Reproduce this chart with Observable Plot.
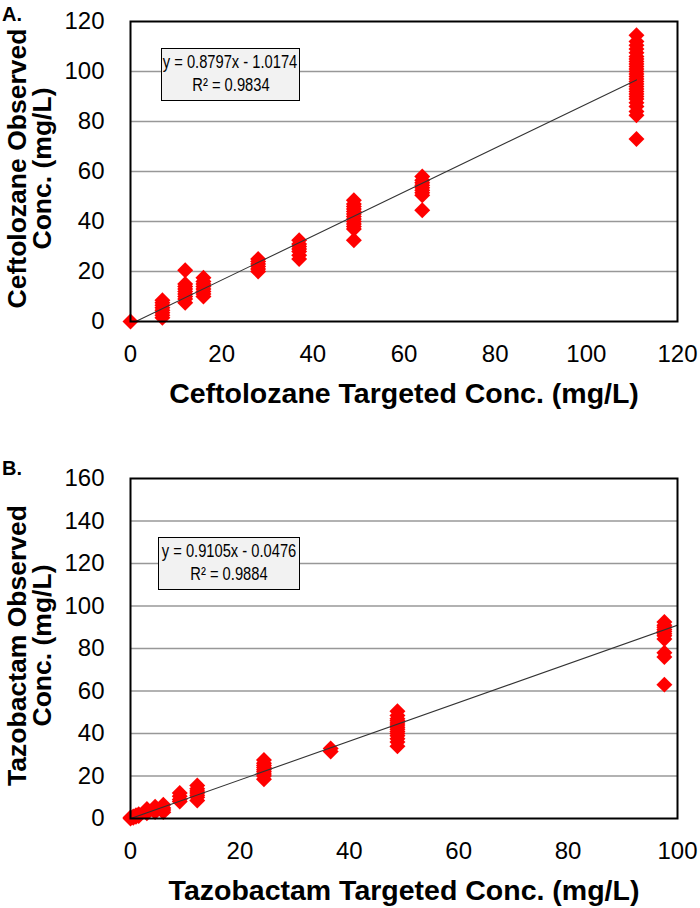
<!DOCTYPE html>
<html><head><meta charset="utf-8">
<script src="https://cdn.jsdelivr.net/npm/d3@7"></script>
<script src="https://cdn.jsdelivr.net/npm/@observablehq/plot@0.6"></script>
<style>
body{margin:0;background:#fff;font-family:"Liberation Sans",Arial,sans-serif;}
#wrap{position:relative;width:700px;height:908px;overflow:hidden;}
.panel{position:absolute;left:0;}
.tag{position:absolute;font-weight:bold;font-size:20px;line-height:20px;}
.eq{position:absolute;background:#f2f2f2;border:1.5px solid #000;font-size:17.5px;line-height:23px;box-sizing:border-box;padding-top:2px;white-space:nowrap;overflow:visible;}
.eq span{display:flex;justify-content:center;width:100%;}
.eq span i{font-style:normal;display:inline-block;flex:none;transform:scaleX(0.84);transform-origin:50% 50%;}
</style></head><body>
<div id="wrap"></div>
<script>
// ---- Panel A: Ceftolozane ----
const cefTargets = [0, 7, 12, 16, 28, 37, 49, 64, 111];
const cefObserved = [
  [0],
  [1.5, 2.5, 3.5, 4.5, 5.5, 6.5, 7.5, 8.5],
  [7.5, 9, 10, 11, 12, 13, 14, 15, 20.5],
  [10, 11, 12, 13, 14, 15, 16, 17.5],
  [20, 21, 22, 23, 24, 25],
  [25, 26.5, 28, 29, 30, 31, 32.5],
  [32.5, 37, 38, 39, 40, 41, 42, 43, 44, 45, 46, 47, 48.5],
  [44.5, 50.5, 51.5, 52.5, 53.5, 54.5, 55.5, 56.5, 58],
  [73, 82.5, 84, 86, 87.5, 89, 90, 91, 92, 93, 94, 95, 96, 97, 98, 99, 100, 101, 102, 103, 104, 105, 106, 107.5, 109, 110.5, 112, 114.5]
];
const cefTrend = [0.8797, -1.0174];      // slope, intercept
const cefTrendRange = [0, 111];
const cefXTicks = [0, 20, 40, 60, 80, 100, 120];
const cefYTicks = [0, 20, 40, 60, 80, 100, 120];
const cefEquation = ["y = 0.8797x - 1.0174", "R² = 0.9834"];

// ---- Panel B: Tazobactam ----
const tazTargets = [0, 0.5, 1, 1.5, 3, 4.5, 6, 9, 12.2, 24.4, 36.6, 48.8, 97.6];
const tazObserved = [
  [0, 0.5],
  [0.4, 1],
  [0.8, 1.5],
  [1.2, 2],
  [2.5, 3.5, 4.5],
  [3, 4.5, 5.5],
  [3, 4, 5, 6.5],
  [8, 9, 10.5, 12],
  [8.5, 10, 11, 12, 13, 14, 15.5],
  [18.5, 20, 21, 22, 23, 24, 25, 26, 27.5],
  [31.5, 33],
  [34, 36, 37.5, 39, 40, 41, 42, 43, 44, 45, 46, 47, 48.5, 50.5],
  [63, 76, 78, 84.5, 86, 87, 88, 89, 90, 91, 92.5]
];
const tazTrend = [0.9105, -0.0476];
const tazTrendRange = [0, 100];
const tazXTicks = [0, 20, 40, 60, 80, 100];
const tazYTicks = [0, 20, 40, 60, 80, 100, 120, 140, 160];
const tazEquation = ["y = 0.9105x - 0.0476", "R² = 0.9884"];

function panel({targets, observed, trend, trendRange, xTicks, yTicks, xLabel, yLabel, height, marginTop, marginBottom}) {
  const pts = targets.flatMap((t, i) => observed[i].map(v => ({x: t, y: v})));
  const line = trendRange.map(x => ({x, y: trend[0] * x + trend[1]}));
  const xDomain = [xTicks[0], xTicks[xTicks.length - 1]];
  const yDomain = [yTicks[0], yTicks[yTicks.length - 1]];
  return Plot.plot({
    width: 700, height, marginTop, marginBottom, marginLeft: 130, marginRight: 23,
    style: {fontFamily: "'Liberation Sans', Arial, sans-serif", fontSize: "24px", color: "#000", background: "transparent"},
    x: {domain: xDomain},
    y: {domain: yDomain},
    marks: [
      Plot.ruleY(yTicks.filter(v => v > yDomain[0] && v < yDomain[1]), {stroke: "#989898", strokeWidth: 1.3}),
      Plot.axisX({ticks: xTicks, tickSize: 0, tickPadding: 23, label: null, fontSize: 24}),
      Plot.axisY({ticks: yTicks, tickSize: 0, tickPadding: 26, label: null, fontSize: 24}),
      Plot.dot(pts, {x: "x", y: "y", symbol: "diamond2", r: 7.2, fill: "#ff0000", stroke: "none"}),
      Plot.line(line, {x: "x", y: "y", stroke: "#333", strokeWidth: 1.1, clip: true}),
      Plot.frame({stroke: "#000", strokeWidth: 2}),
      Plot.text([xLabel], {text: d => d, frameAnchor: "bottom", dy: 61, lineAnchor: "top", textAnchor: "middle", fontSize: 28.5, fontWeight: "bold"}),
      Plot.text([yLabel], {text: d => d, frameAnchor: "left", dx: -100, dy: -3, rotate: -90, textAnchor: "middle", lineAnchor: "middle", fontSize: 26.5, fontWeight: "bold", lineHeight: 0.94})
    ]
  });
}

const wrap = document.getElementById("wrap");

function place(el, top) { el.classList.add("panel"); el.style.top = top + "px"; wrap.appendChild(el); }

place(panel({
  targets: cefTargets, observed: cefObserved, trend: cefTrend, trendRange: cefTrendRange,
  xTicks: cefXTicks, yTicks: cefYTicks,
  xLabel: "Ceftolozane Targeted Conc. (mg/L)", yLabel: "Ceftolozane Observed\nConc. (mg/L)",
  height: 420, marginTop: 21, marginBottom: 99
}), 0);

place(panel({
  targets: tazTargets, observed: tazObserved, trend: tazTrend, trendRange: tazTrendRange,
  xTicks: tazXTicks, yTicks: tazYTicks,
  xLabel: "Tazobactam Targeted Conc. (mg/L)", yLabel: "Tazobactam Observed\nConc. (mg/L)",
  height: 488, marginTop: 58, marginBottom: 90
}), 420);

function addDiv(cls, html, style) {
  const d = document.createElement("div");
  d.className = cls; d.innerHTML = html; Object.assign(d.style, style); wrap.appendChild(d);
}
addDiv("tag", "A.", {left: "2px", top: "4px"});
addDiv("tag", "B.", {left: "2px", top: "458px"});
const eqHtml = lines => lines.map(s => "<span><i>" + s + "</i></span>").join("");
addDiv("eq", eqHtml(cefEquation), {left: "161px", top: "48px", width: "139px", height: "53px"});
addDiv("eq", eqHtml(tazEquation), {left: "158px", top: "537px", width: "142px", height: "53px"});
</script>
</body></html>
